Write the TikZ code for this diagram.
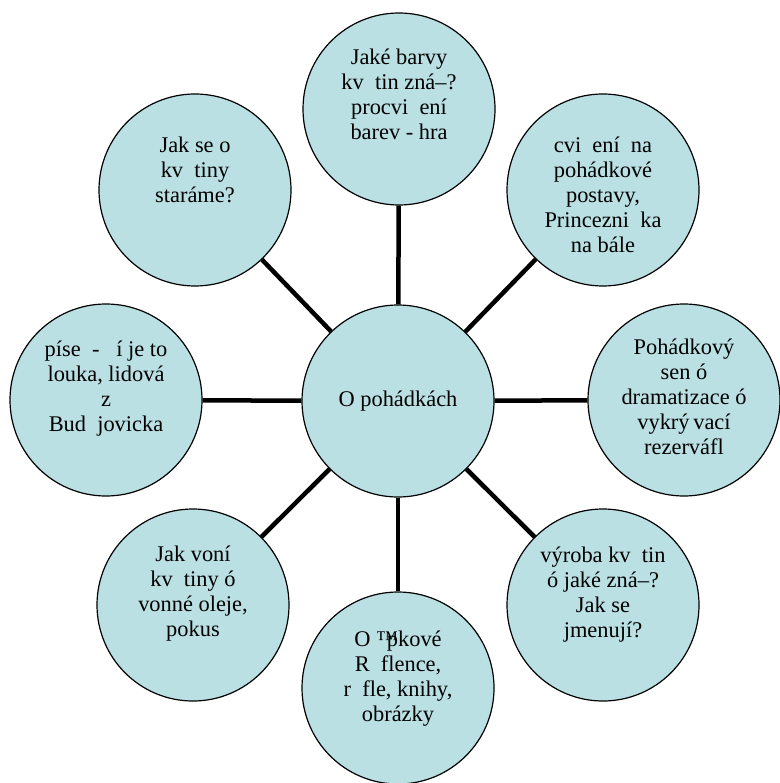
\documentclass[tikz,border=0pt]{standalone}
\usepackage{fontspec}
\setmainfont{Liberation Serif}
\usepackage{tikz}
\usetikzlibrary{shapes,positioning}

\definecolor{bubblue}{RGB}{186,224,228}

\tikzset{
  bub/.style={circle,draw=black,line width=1.2pt,fill=bubblue,minimum size=192pt,inner sep=0pt},
  txt/.style={align=center,inner sep=0pt,font=\fontsize{22.4}{25}\selectfont},
  spoke/.style={line width=4.5pt,black}
}

\begin{document}
\begin{tikzpicture}[x=1pt,y=-1pt]
            \useasboundingbox (0,0) rectangle (779,783);
            \node[bub] (hub) at (398,401) {};
            \node[bub] (flower) at (399,109) {};
            \node[bub] (fairy) at (603,190) {};
            \node[bub] (care) at (195,190) {};
            \node[bub] (song) at (106,400) {};
            \node[bub] (dream) at (684,400) {};
            \node[bub] (craft) at (603,605) {};
            \node[bub] (smell) at (193,605) {};
            \node[bub] (books) at (398,688) {};
            \foreach \n in {flower,fairy,care,song,dream,craft,smell,books}
                \draw[spoke] (hub) -- (\n);
            \node[txt] (hubT) at (hub) {O pohádkách};
            \node[txt] (flowerT) at ([yshift=15pt]flower) {Jaké barvy\\kv~~tin zná–?\\procvi~~ení\\barev - hra};
            \node[txt] (fairyT) at ([yshift=-5pt]fairy) {cvi~~ení~ na\\pohádkové\\postavy,\\Princezni~~ka\\na bále};
            \node[txt] (careT) at ([yshift=20pt]care) {Jak se o\\kv~~tiny\\staráme?};
            \node[txt] (songT) at ([yshift=11pt]song) {píse~ -~~~í je to\\louka, lidová\\z\\Bud~~jovicka};
            \node[txt] (dreamT) at ([yshift=3pt]dream) {Pohádkový\\sen ó\\dramatizace ó\\vykrý\,vací\\rezerváfl};
            \node[txt] (craftT) at ([yshift=10pt]craft) {výroba kv~~tin\\ó jaké zná–?\\Jak se\\jmenují?};
            \node[txt] (smellT) at ([yshift=11pt]smell) {Jak voní\\kv~~tiny ó\\vonné oleje,\\pokus};
            \node[txt] (booksT) at ([yshift=9pt]books) {O ™\kern-0.5em pkové\\R~~flence,\\r~~fle, knihy,\\obrázky};
        \end{tikzpicture}
\end{document}
